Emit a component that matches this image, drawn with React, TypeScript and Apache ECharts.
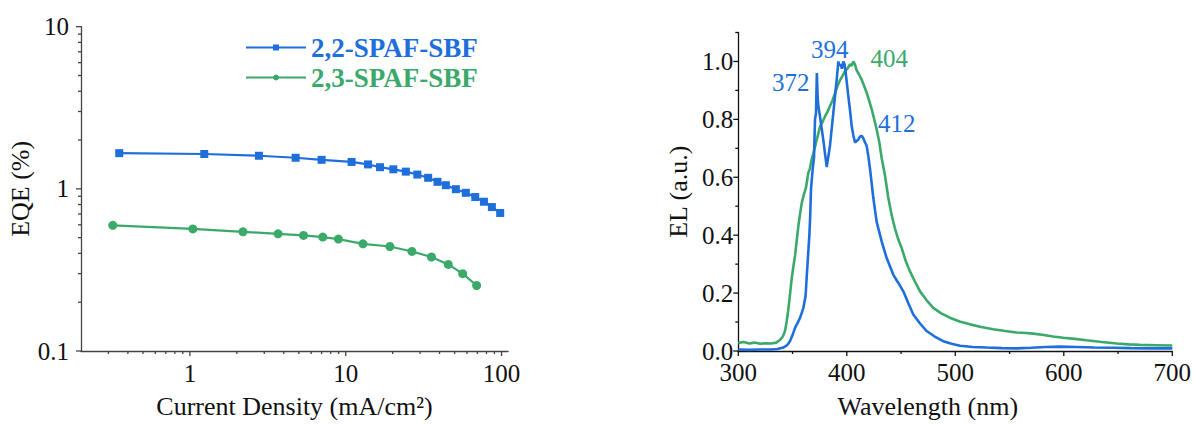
import React, { useEffect, useRef } from "react";
import * as echarts from "echarts";

const BLUE = "#1e6fdc";
const GREEN = "#3aa96a";
const FONT = "Liberation Serif";

// Left chart: EQE vs current density
const seriesNames = ["2,2-SPAF-SBF", "2,3-SPAF-SBF"];
const jBlue = [0.352, 1.236, 2.772, 4.77, 7.0, 10.9, 13.9, 16.6, 20.2, 24.3, 28.8, 33.8, 38.8, 43.9, 50.9, 59.0, 67.8, 77.1, 86.7, 98.0];
const eqeBlue = [1.66, 1.64, 1.6, 1.555, 1.51, 1.465, 1.415, 1.36, 1.32, 1.277, 1.225, 1.17, 1.105, 1.053, 0.995, 0.945, 0.89, 0.833, 0.772, 0.71];
const jGreen = [0.32, 1.045, 2.19, 3.68, 5.36, 7.12, 8.97, 12.9, 19.2, 26.6, 35.5, 45.5, 56.3, 69.2];
const eqeGreen = [0.596, 0.566, 0.543, 0.528, 0.516, 0.504, 0.49, 0.458, 0.441, 0.411, 0.38, 0.342, 0.3, 0.2535];

// Left chart log-axis ticks
const xMajorTicksL = [1, 10, 100];
const xMinorTicksL = [0.3, 0.4, 0.5, 0.6, 0.7, 0.8, 0.9, 2, 3, 4, 5, 6, 7, 8, 9, 20, 30, 40, 50, 60, 70, 80, 90];
const yMajorTicksL = [0.1, 1, 10];
const yMinorTicksL = [0.2, 0.3, 0.4, 0.5, 0.6, 0.7, 0.8, 0.9, 2, 3, 4, 5, 6, 7, 8, 9];

// Right chart: EL spectra [wavelength nm, EL a.u.]
const elBlue = [
  [300, 0.005], [310, 0.004], [320, 0.005], [330, 0.005], [336, 0.007], [341.5, 0.012], [345, 0.02], [347.6, 0.034],
  [350, 0.055], [352.3, 0.08], [355, 0.1], [357, 0.115], [360, 0.149], [362, 0.19], [363, 0.252], [364.3, 0.33],
  [365.5, 0.4], [366.3, 0.47], [367, 0.56], [368.6, 0.629], [369.8, 0.67], [370.7, 0.8], [371.6, 0.82], [372.4, 0.96],
  [373.2, 0.87], [374, 0.84], [375.3, 0.81], [378.3, 0.73], [381.5, 0.635], [382.5, 0.66], [384.5, 0.709], [387.6, 0.823],
  [390.7, 0.937], [392.2, 1.0], [393.2, 0.985], [394.3, 0.99], [395.5, 0.975], [396.8, 1.0], [398, 0.99], [399.3, 0.95],
  [401.4, 0.88], [403, 0.83], [404.5, 0.777], [406, 0.745], [407.6, 0.72], [409, 0.725], [410.6, 0.73], [412, 0.74],
  [413.7, 0.743], [415.2, 0.735], [416.8, 0.72], [418.3, 0.709], [419.8, 0.674], [421.4, 0.629], [424.4, 0.53], [427.5, 0.446],
  [432.2, 0.378], [436.8, 0.32], [442.9, 0.263], [447.5, 0.235], [452.1, 0.206], [456.7, 0.165], [461.3, 0.126], [467.5, 0.095],
  [473.6, 0.069], [481, 0.05], [488.9, 0.034], [496.5, 0.025], [504.3, 0.018], [516, 0.014], [528.9, 0.012], [543, 0.01],
  [556.6, 0.009], [570, 0.011], [583, 0.014], [597, 0.015], [612, 0.014], [628, 0.012], [645, 0.011], [662, 0.01],
  [680, 0.009], [700, 0.009],
];
const elGreen = [
  [300, 0.028], [305, 0.031], [310, 0.026], [315, 0.029], [320, 0.025], [325, 0.027], [330, 0.026], [335, 0.029],
  [338.4, 0.038], [341, 0.05], [343, 0.068], [344.5, 0.1], [346, 0.14], [347.5, 0.19], [349.2, 0.25], [350.7, 0.29],
  [352.3, 0.33], [353.8, 0.38], [355.3, 0.43], [356.8, 0.47], [358.4, 0.51], [360.4, 0.54], [362.4, 0.565], [364.5, 0.615],
  [366, 0.63], [367.5, 0.66], [369, 0.68], [370.7, 0.705], [373, 0.74], [375.3, 0.775], [377.5, 0.79], [379.9, 0.81],
  [382, 0.825], [384.5, 0.846], [386.8, 0.865], [389.1, 0.89], [391.4, 0.915], [393.7, 0.935], [396, 0.95], [398.3, 0.966],
  [400.6, 0.975], [402.9, 0.99], [404.5, 0.985], [406, 1.0], [407.5, 0.99], [409, 0.97], [411.3, 0.955], [413.7, 0.937],
  [416, 0.915], [418.3, 0.892], [420.6, 0.865], [423, 0.834], [425.3, 0.8], [427.5, 0.766], [430, 0.72], [432.2, 0.665],
  [435.2, 0.606], [438.2, 0.53], [441.3, 0.47], [444.4, 0.423], [447.5, 0.385], [450.6, 0.355], [454.4, 0.31], [458.2, 0.275],
  [462.8, 0.24], [467.5, 0.206], [473.6, 0.175], [479.7, 0.149], [487, 0.13], [495, 0.115], [504, 0.102], [513.5, 0.092],
  [524, 0.083], [535, 0.075], [546, 0.069], [556.6, 0.064], [565, 0.062], [571.9, 0.06], [580, 0.056], [590, 0.05],
  [599.5, 0.046], [610, 0.042], [621, 0.037], [635, 0.031], [648.8, 0.026], [660, 0.023], [670, 0.021], [685, 0.02],
  [700, 0.019],
];

// Right chart ticks
const xMajorTicksR = [300, 400, 500, 600, 700];
const xMinorTicksR = [350, 450, 550, 650];
const yMajorTicksR = [0, 0.2, 0.4, 0.6, 0.8, 1.0];
const yMinorTicksR = [0.1, 0.3, 0.5, 0.7, 0.9, 1.1];

// Peak annotations [label, wavelength, EL]
const blueAnnotations: [string, number, number][] = [["372", 348.4, 0.929], ["394", 384.2, 1.043], ["412", 446, 0.786]];
const greenAnnotations: [string, number, number][] = [["404", 439.1, 1.009]];

const L_XMIN = 0.2, L_XMAX = 110, L_YMIN = 0.1, L_YMAX = 10;
const R_XMIN = 300, R_XMAX = 700, R_YMIN = 0, R_YMAX = 1.1;

function tickData(xMaj: number[], xMin: number[], yMaj: number[], yMin: number[], x0: number, y0: number) {
  const d: number[][] = [];
  xMaj.forEach((v) => d.push([v, y0, 0]));
  xMin.forEach((v) => d.push([v, y0, 1]));
  yMaj.forEach((v) => d.push([x0, v, 2]));
  yMin.forEach((v) => d.push([x0, v, 3]));
  return d;
}

function tickRenderer(color: string) {
  return (params: any, api: any) => {
    const kind = api.value(2);
    const p = api.coord([api.value(0), api.value(1)]);
    let shape;
    if (kind === 0) shape = { x1: p[0], y1: p[1], x2: p[0], y2: p[1] + 5 };
    else if (kind === 1) shape = { x1: p[0], y1: p[1], x2: p[0], y2: p[1] + 3 };
    else if (kind === 2) shape = { x1: p[0] - 5, y1: p[1], x2: p[0], y2: p[1] };
    else shape = { x1: p[0] - 3, y1: p[1], x2: p[0], y2: p[1] };
    return { type: "line", shape, style: { stroke: color, lineWidth: 1.3 } };
  };
}

export default function App() {
  const ref = useRef<HTMLDivElement>(null);
  useEffect(() => {
    if (!ref.current) return;
    const chart = echarts.init(ref.current, undefined, { renderer: "svg" });
    const labelStyle = { fontFamily: FONT, fontSize: 25, color: "#111" };
    const nameStyle = { fontFamily: FONT, fontSize: 26, color: "#111" };
    chart.setOption({
      animation: false,
      backgroundColor: "#fff",
      textStyle: { fontFamily: FONT },
      grid: [
        { left: 81, top: 26.7, width: 427, height: 326.6, containLabel: false },
        { left: 738.3, top: 32.5, width: 434, height: 321, containLabel: false },
      ],
      legend: {
        orient: "vertical",
        left: 240,
        top: 29,
        itemWidth: 60,
        itemHeight: 7.5,
        itemGap: 3,
        textStyle: { fontFamily: FONT, fontSize: 27, fontWeight: "bold", lineHeight: 27 },
        data: [
          { name: seriesNames[0], textStyle: { color: BLUE } },
          { name: seriesNames[1], textStyle: { color: GREEN } },
        ],
      },
      xAxis: [
        {
          type: "log",
          gridIndex: 0,
          min: L_XMIN,
          max: L_XMAX,
          logBase: 10,
          axisLine: { show: true, lineStyle: { color: "#444", width: 1.3 } },
          axisTick: { show: false },
          splitLine: { show: false },
          axisLabel: { ...labelStyle, margin: 10, showMinLabel: false, showMaxLabel: false },
          name: "Current Density (mA/cm²)",
          nameLocation: "middle",
          nameGap: 42,
          nameTextStyle: nameStyle,
        },
        {
          type: "value",
          gridIndex: 1,
          min: R_XMIN,
          max: R_XMAX,
          interval: 100,
          axisLine: { show: true, lineStyle: { color: "#111", width: 1.3 } },
          axisTick: { show: false },
          splitLine: { show: false },
          axisLabel: { ...labelStyle, margin: 9 },
          name: "Wavelength (nm)",
          nameLocation: "middle",
          nameGap: 42,
          nameTextStyle: { ...nameStyle, padding: [0, 55, 0, 0] },
        },
      ],
      yAxis: [
        {
          type: "log",
          gridIndex: 0,
          min: L_YMIN,
          max: L_YMAX,
          logBase: 10,
          axisLine: { show: true, lineStyle: { color: "#444", width: 1.3 } },
          axisTick: { show: false },
          splitLine: { show: false },
          axisLabel: { ...labelStyle, margin: 12 },
          name: "EQE (%)",
          nameLocation: "middle",
          nameGap: 46,
          nameTextStyle: nameStyle,
        },
        {
          type: "value",
          gridIndex: 1,
          min: R_YMIN,
          max: R_YMAX,
          interval: 0.2,
          axisLine: { show: true, lineStyle: { color: "#111", width: 1.3 } },
          axisTick: { show: false },
          splitLine: { show: false },
          axisLabel: { ...labelStyle, margin: 5, showMaxLabel: false, formatter: (v: number) => v.toFixed(1) },
          name: "EL (a.u.)",
          nameLocation: "middle",
          nameGap: 47,
          nameTextStyle: nameStyle,
        },
      ],
      series: [
        {
          name: seriesNames[0],
          type: "line",
          xAxisIndex: 0,
          yAxisIndex: 0,
          data: jBlue.map((x, i) => [x, eqeBlue[i]]),
          symbol: "rect",
          symbolSize: 8,
          color: BLUE,
          lineStyle: { width: 2.2, color: BLUE },
          itemStyle: { color: BLUE },
        },
        {
          name: seriesNames[1],
          type: "line",
          xAxisIndex: 0,
          yAxisIndex: 0,
          data: jGreen.map((x, i) => [x, eqeGreen[i]]),
          symbol: "circle",
          symbolSize: 9,
          color: GREEN,
          lineStyle: { width: 2.2, color: GREEN },
          itemStyle: { color: GREEN },
        },
        {
          name: "ticksL",
          type: "custom",
          xAxisIndex: 0,
          yAxisIndex: 0,
          clip: false,
          silent: true,
          data: tickData(xMajorTicksL, xMinorTicksL, yMajorTicksL, yMinorTicksL, L_XMIN, L_YMIN),
          renderItem: tickRenderer("#444"),
        },
        {
          name: "EL blue",
          type: "line",
          xAxisIndex: 1,
          yAxisIndex: 1,
          data: elBlue,
          showSymbol: false,
          symbol: "none",
          lineStyle: { width: 2.6, color: BLUE },
          itemStyle: { color: BLUE },
          z: 3,
          markPoint: {
            symbol: "circle",
            symbolSize: 1,
            itemStyle: { color: "rgba(0,0,0,0)" },
            label: { show: true, position: "inside", fontFamily: FONT, fontSize: 25, color: BLUE, formatter: (p: any) => p.name },
            data: blueAnnotations.map(([n, x, y]) => ({ name: n, coord: [x, y] })),
          },
        },
        {
          name: "EL green",
          type: "line",
          xAxisIndex: 1,
          yAxisIndex: 1,
          data: elGreen,
          showSymbol: false,
          symbol: "none",
          lineStyle: { width: 2.6, color: GREEN },
          itemStyle: { color: GREEN },
          z: 2,
          markPoint: {
            symbol: "circle",
            symbolSize: 1,
            itemStyle: { color: "rgba(0,0,0,0)" },
            label: { show: true, position: "inside", fontFamily: FONT, fontSize: 25, color: GREEN, formatter: (p: any) => p.name },
            data: greenAnnotations.map(([n, x, y]) => ({ name: n, coord: [x, y] })),
          },
        },
        {
          name: "ticksR",
          type: "custom",
          xAxisIndex: 1,
          yAxisIndex: 1,
          clip: false,
          silent: true,
          data: tickData(xMajorTicksR, xMinorTicksR, yMajorTicksR, yMinorTicksR, R_XMIN, R_YMIN),
          renderItem: tickRenderer("#111"),
        },
      ],
    });
    return () => chart.dispose();
  }, []);
  return <div ref={ref} style={{ position: "absolute", left: 0, top: 0, width: 1195, height: 424 }} />;
}
